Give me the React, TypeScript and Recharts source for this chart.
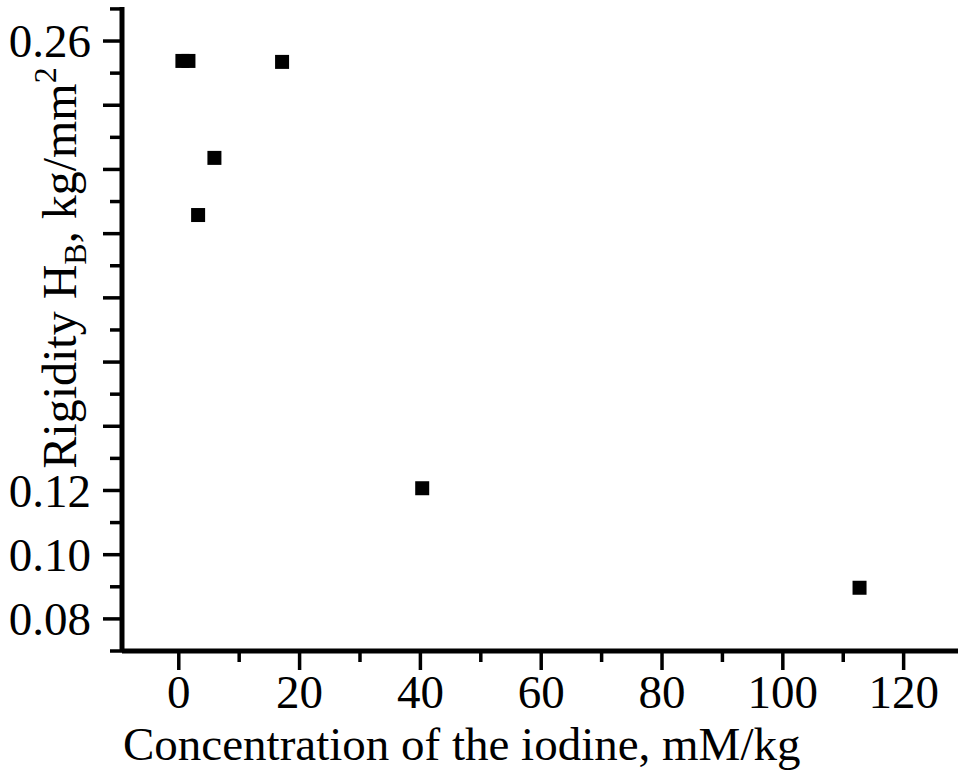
import { ScatterChart, Scatter, XAxis, YAxis, Label } from 'recharts';

const concentration = [0.6, 1.6, 17.1, 5.9, 3.2, 40.3, 112.7];
const rigidity = [0.2538, 0.2538, 0.2535, 0.2236, 0.2058, 0.1207, 0.0897];

const xTicks = [0, 10, 20, 30, 40, 50, 60, 70, 80, 90, 100, 110, 120];
const xLabels = ['0', '20', '40', '60', '80', '100', '120'];
const yTicks = [0.07, 0.08, 0.09, 0.1, 0.11, 0.12, 0.13, 0.14, 0.15, 0.16, 0.17, 0.18, 0.19, 0.2, 0.21, 0.22, 0.23, 0.24, 0.25, 0.26, 0.27];
const yLabels = ['0.08', '0.10', '0.12', '0.26'];
const yMajor = ['0.08', '0.10', '0.12', '0.14', '0.16', '0.18', '0.20', '0.22', '0.24', '0.26'];

const points = concentration.map((x, i) => ({ x, y: rigidity[i] }));

const FONT = '"Liberation Serif", "Times New Roman", serif';

const XTick = ({ x, y, payload }: any) => {
  const label = String(payload.value);
  const major = xLabels.includes(label);
  return (
    <g>
      <line x1={x} x2={x} y1={y} y2={y + (major ? 19 : 11)} stroke="#000" strokeWidth={3.5} />
      {major && (
        <text x={x} y={y + 57} textAnchor="middle" fontSize={47} fontFamily={FONT} fill="#000">
          {label}
        </text>
      )}
    </g>
  );
};

const YTick = ({ x, y, payload }: any) => {
  const label = payload.value.toFixed(2);
  const major = yMajor.includes(label);
  return (
    <g>
      <line x1={x} x2={x - (major ? 19 : 12)} y1={y} y2={y} stroke="#000" strokeWidth={3.5} />
      {yLabels.includes(label) && (
        <text x={x - 31} y={y} dy="0.35em" textAnchor="end" fontSize={47} fontFamily={FONT} fill="#000">
          {label}
        </text>
      )}
    </g>
  );
};

const Square = ({ cx, cy }: any) => <rect x={cx - 7} y={cy - 7} width={14} height={14} fill="#000" />;

export default function App() {
  return (
    <div style={{ position: 'absolute', left: 0, top: 0, background: '#fff' }}>
      <ScatterChart width={958} height={771} margin={{ top: 7, right: 0, bottom: 0, left: 0 }}>
        <XAxis
          type="number"
          dataKey="x"
          domain={[-9.4, 129]}
          ticks={xTicks}
          interval={0}
          tickSize={0}
          tickMargin={0}
          tickLine={false}
          tick={<XTick />}
          height={120}
          axisLine={{ stroke: '#000', strokeWidth: 5 }}
        >
          <Label
            content={({ viewBox }: any) => (
              <text x={viewBox.x + 1} y={viewBox.y + 109} fontSize={47} fontFamily={FONT} fill="#000">
                Concentration of the iodine, mM/kg
              </text>
            )}
          />
        </XAxis>
        <YAxis
          type="number"
          dataKey="y"
          domain={[0.07, 0.2706]}
          ticks={yTicks}
          interval={0}
          tickSize={0}
          tickMargin={0}
          tickLine={false}
          tick={<YTick />}
          width={122}
          axisLine={{ stroke: '#000', strokeWidth: 5 }}
        >
          <Label
            content={() => (
              <text
                transform="translate(76, 268) rotate(-90)"
                textAnchor="middle"
                fontSize={48}
                fontFamily={FONT}
                fill="#000"
              >
                Rigidity H
                <tspan fontSize={32} dy={10}>B</tspan>
                <tspan dy={-10}>, kg/mm</tspan>
                <tspan fontSize={32} dy={-20}>2</tspan>
              </text>
            )}
          />
        </YAxis>
        <Scatter data={points} shape={<Square />} isAnimationActive={false} />
      </ScatterChart>
    </div>
  );
}
